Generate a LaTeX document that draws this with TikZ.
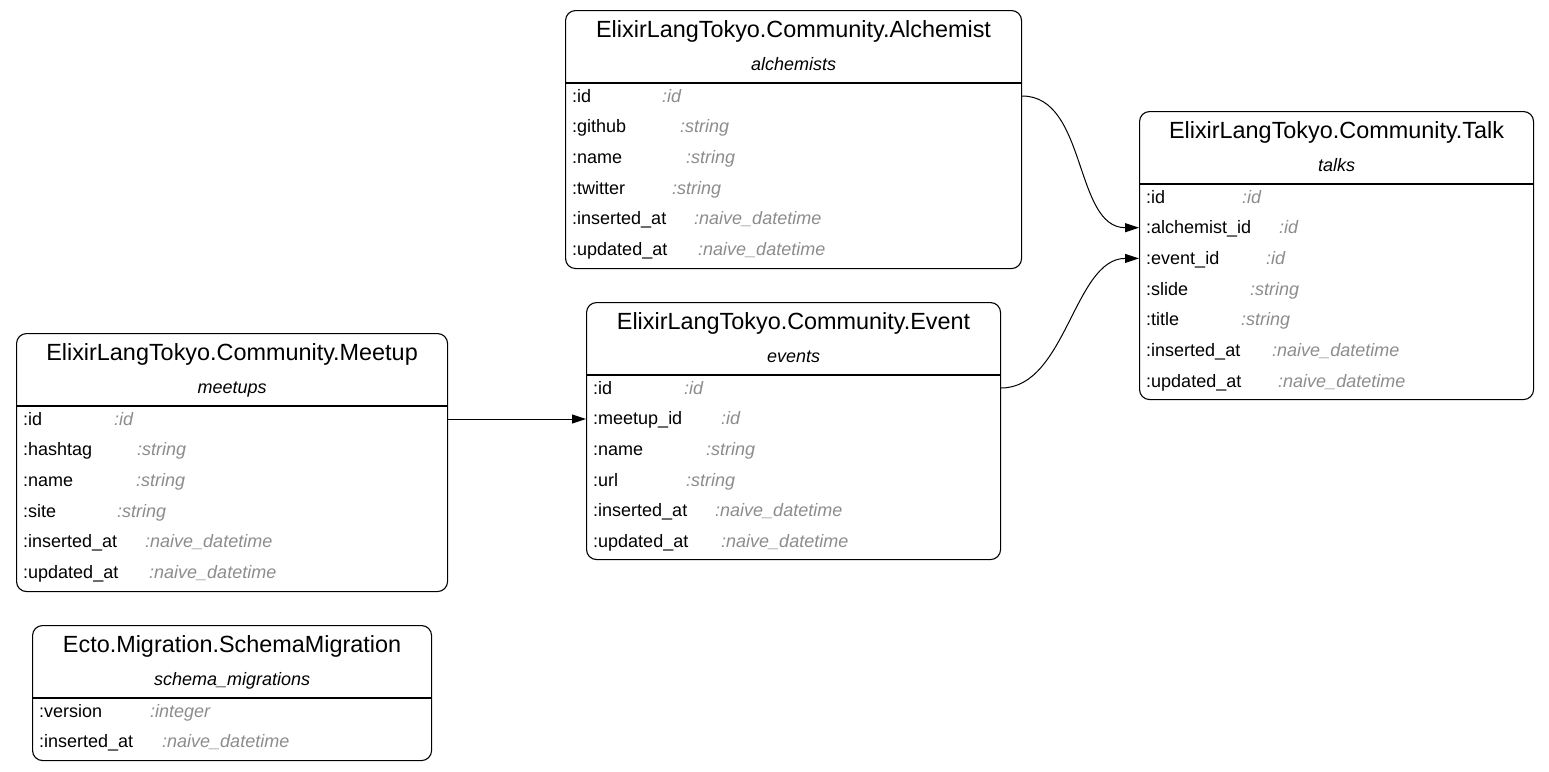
\documentclass[tikz,border=0pt]{standalone}
\usepackage{fontspec}
\setmainfont{Liberation Sans}
\usetikzlibrary{arrows.meta}
\definecolor{typgray}{HTML}{8C8C8C}
\tikzset{
    tbl/.style={draw, rounded corners=10pt, line width=1.1pt, anchor=north west, inner sep=0pt},
    ttl/.style={anchor=base, inner sep=0pt, font=\fontsize{23.4}{27}\selectfont},
    sub/.style={anchor=base, inner sep=0pt, font=\fontsize{18}{21}\selectfont\itshape},
    fld/.style={anchor=base west, inner sep=0pt, text height=12pt, text depth=0pt, font=\fontsize{18}{21}\selectfont},
    typ/.style={fld, text=typgray, font=\fontsize{18}{21}\selectfont\itshape},
    sep/.style={line width=1.1pt},
    edge/.style={line width=1pt, -{Triangle[length=14pt,width=9pt]}}
}
\begin{document}
\begin{tikzpicture}[x=1pt,y=-1pt]
    \useasboundingbox (0,0) rectangle (1549,771);
    % tables
    \node[tbl, minimum width=456pt, minimum height=258pt] (alc) at (565,10) {};
    \node[tbl, minimum width=394pt, minimum height=288pt] (talk) at (1139,111) {};
    \node[tbl, minimum width=414pt, minimum height=257pt] (evt) at (586,302) {};
    \node[tbl, minimum width=431pt, minimum height=258pt] (meet) at (16,333) {};
    \node[tbl, minimum width=399pt, minimum height=135pt] (mig) at (32,625) {};
    % titles and table names
    \foreach \b/\t/\s in
    {alc/ElixirLangTokyo.Community.Alchemist/alchemists,
     talk/ElixirLangTokyo.Community.Talk/talks,
     evt/ElixirLangTokyo.Community.Event/events,
     meet/ElixirLangTokyo.Community.Meetup/meetups,
     mig/Ecto.Migration.SchemaMigration/schema\_migrations}
    {
        \node[ttl] (\b-ttl) at ([yshift=-27pt]\b.north) {\t};
        \node[sub] (\b-sub) at ([yshift=-60pt]\b.north) {\s};
        \draw[sep] ([yshift=-73pt]\b.north west) -- ([yshift=-73pt]\b.north east);
    };
    % fields
    \foreach \f/\t/\o [count=\i] in
    {id/id/90, github/string/108, name/string/114, twitter/string/100,
     inserted\_at/naive\_datetime/122, updated\_at/naive\_datetime/126}
    {
        \node[fld] (alc-\i) at (572,71.3+30.7*\i) {:\f};
        \node[typ] (alc-t\i) at (572+\o,71.3+30.7*\i) {:\t};
    };
    \foreach \f/\t/\o [count=\i] in
    {id/id/96, alchemist\_id/id/133, event\_id/id/120, slide/string/104,
     title/string/95, inserted\_at/naive\_datetime/126, updated\_at/naive\_datetime/132}
    {
        \node[fld] (talk-\i) at (1146,172.3+30.7*\i) {:\f};
        \node[typ] (talk-t\i) at (1146+\o,172.3+30.7*\i) {:\t};
    };
    \foreach \f/\t/\o [count=\i] in
    {id/id/91, meetup\_id/id/128, name/string/113, url/string/93,
     inserted\_at/naive\_datetime/122, updated\_at/naive\_datetime/128}
    {
        \node[fld] (evt-\i) at (593,363.3+30.7*\i) {:\f};
        \node[typ] (evt-t\i) at (593+\o,363.3+30.7*\i) {:\t};
    };
    \foreach \f/\t/\o [count=\i] in
    {id/id/91, hashtag/string/114, name/string/113, site/string/94,
     inserted\_at/naive\_datetime/122, updated\_at/naive\_datetime/126}
    {
        \node[fld] (meet-\i) at (23,394.3+30.7*\i) {:\f};
        \node[typ] (meet-t\i) at (23+\o,394.3+30.7*\i) {:\t};
    };
    \foreach \f/\t/\o [count=\i] in
    {version/integer/111, inserted\_at/naive\_datetime/123}
    {
        \node[fld] (mig-\i) at (39,686.3+30.7*\i) {:\f};
        \node[typ] (mig-t\i) at (39+\o,686.3+30.7*\i) {:\t};
    };
    % references
    \draw[edge] (alc.east |- alc-1) .. controls +(65,0) and +(-65,0) .. (talk.west |- talk-2);
    \draw[edge] (evt.east |- evt-1) .. controls +(65,0) and +(-65,0) .. (talk.west |- talk-3);
    \draw[edge] (meet.east |- meet-1) -- (evt.west |- meet-1);
\end{tikzpicture}
\end{document}
